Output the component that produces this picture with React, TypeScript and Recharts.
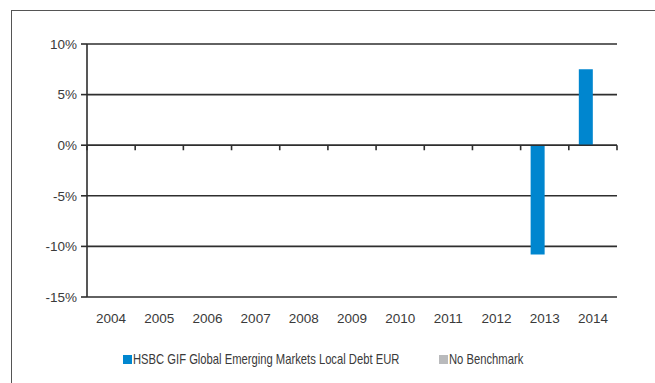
import { Bar, BarChart, CartesianGrid, ReferenceLine, XAxis, YAxis } from "recharts";

const YEARS = ["2004", "2005", "2006", "2007", "2008", "2009", "2010", "2011", "2012", "2013", "2014"];
const FUND_RETURNS: (number | null)[] = [null, null, null, null, null, null, null, null, null, -10.8, 7.5];
const BENCH_RETURNS: (number | null)[] = [null, null, null, null, null, null, null, null, null, null, null];
const Y_TICKS = [-15, -10, -5, 0, 5, 10];
const LEGEND = [
  { name: "HSBC GIF Global Emerging Markets Local Debt EUR", color: "#0086cf", left: 123 },
  { name: "No Benchmark", color: "#b9babc", left: 439 },
];

const FUND_COLOR = "#0086cf";
const BENCH_COLOR = "#b9babc";
const INK = "#2e2e2e";
const FONT = "'Liberation Sans', Arial, Helvetica, sans-serif";

const data = YEARS.map((year, i) => ({
  pos: i + 0.5,
  year,
  fund: FUND_RETURNS[i],
  bench: BENCH_RETURNS[i],
}));

const axisFont = { fontSize: 13.5, fill: "#3a3a3a", fontFamily: FONT };

export default function App() {
  return (
    <div
      style={{
        position: "absolute",
        left: 0,
        top: 0,
        width: 655,
        height: 383,
        background: "#fff",
        overflow: "hidden",
        fontFamily: FONT,
      }}
    >
      <div
        style={{
          position: "absolute",
          left: 11,
          top: 10,
          width: 660,
          height: 400,
          borderTop: "1.5px solid #555",
          borderLeft: "1.5px solid #555",
        }}
      />
      <BarChart
        width={655}
        height={383}
        data={data}
        margin={{ top: 44, right: 38, bottom: 56, left: 0 }}
        barGap={0}
        style={{ position: "absolute", left: 0, top: 0, fontFamily: FONT }}
      >
        <CartesianGrid vertical={false} stroke={INK} strokeWidth={1.6} />
        <XAxis
          dataKey="pos"
          type="number"
          domain={[0, YEARS.length]}
          ticks={YEARS.map((_, i) => i + 0.5)}
          tickFormatter={(v: number) => YEARS[Math.floor(v)]}
          axisLine={false}
          tickLine={false}
          tickSize={6}
          tickMargin={10}
          height={30}
          tick={axisFont}
          interval={0}
        />
        <YAxis
          domain={[-15, 10]}
          ticks={Y_TICKS}
          tickFormatter={(v: number) => `${v}%`}
          width={87}
          axisLine={{ stroke: INK, strokeWidth: 1.6 }}
          tickLine={{ stroke: INK, strokeWidth: 1.6 }}
          tickSize={6}
          tickMargin={4}
          tick={axisFont}
          interval={0}
        />
        <ReferenceLine y={0} stroke={INK} strokeWidth={1.6} />
        {YEARS.concat([""]).map((_, i) => (
          <ReferenceLine
            key={i}
            segment={[
              { x: i, y: 0 },
              { x: i, y: -0.5 },
            ]}
            stroke={INK}
            strokeWidth={1.6}
            ifOverflow="visible"
          />
        ))}
        <Bar dataKey="fund" fill={FUND_COLOR} barSize={14} isAnimationActive={false} />
        <Bar dataKey="bench" fill={BENCH_COLOR} barSize={14} isAnimationActive={false} />
      </BarChart>
      {LEGEND.map((item) => (
        <div key={item.name}>
          <span
            style={{
              position: "absolute",
              left: item.left,
              top: 355,
              width: 9,
              height: 9,
              background: item.color,
            }}
          />
          <span
            style={{
              position: "absolute",
              left: item.left + 10,
              top: 350,
              fontSize: 14.4,
              lineHeight: "18px",
              color: "#3a3a3a",
              whiteSpace: "nowrap",
              transform: "scaleX(0.78)",
              transformOrigin: "left center",
            }}
          >
            {item.name}
          </span>
        </div>
      ))}
    </div>
  );
}
